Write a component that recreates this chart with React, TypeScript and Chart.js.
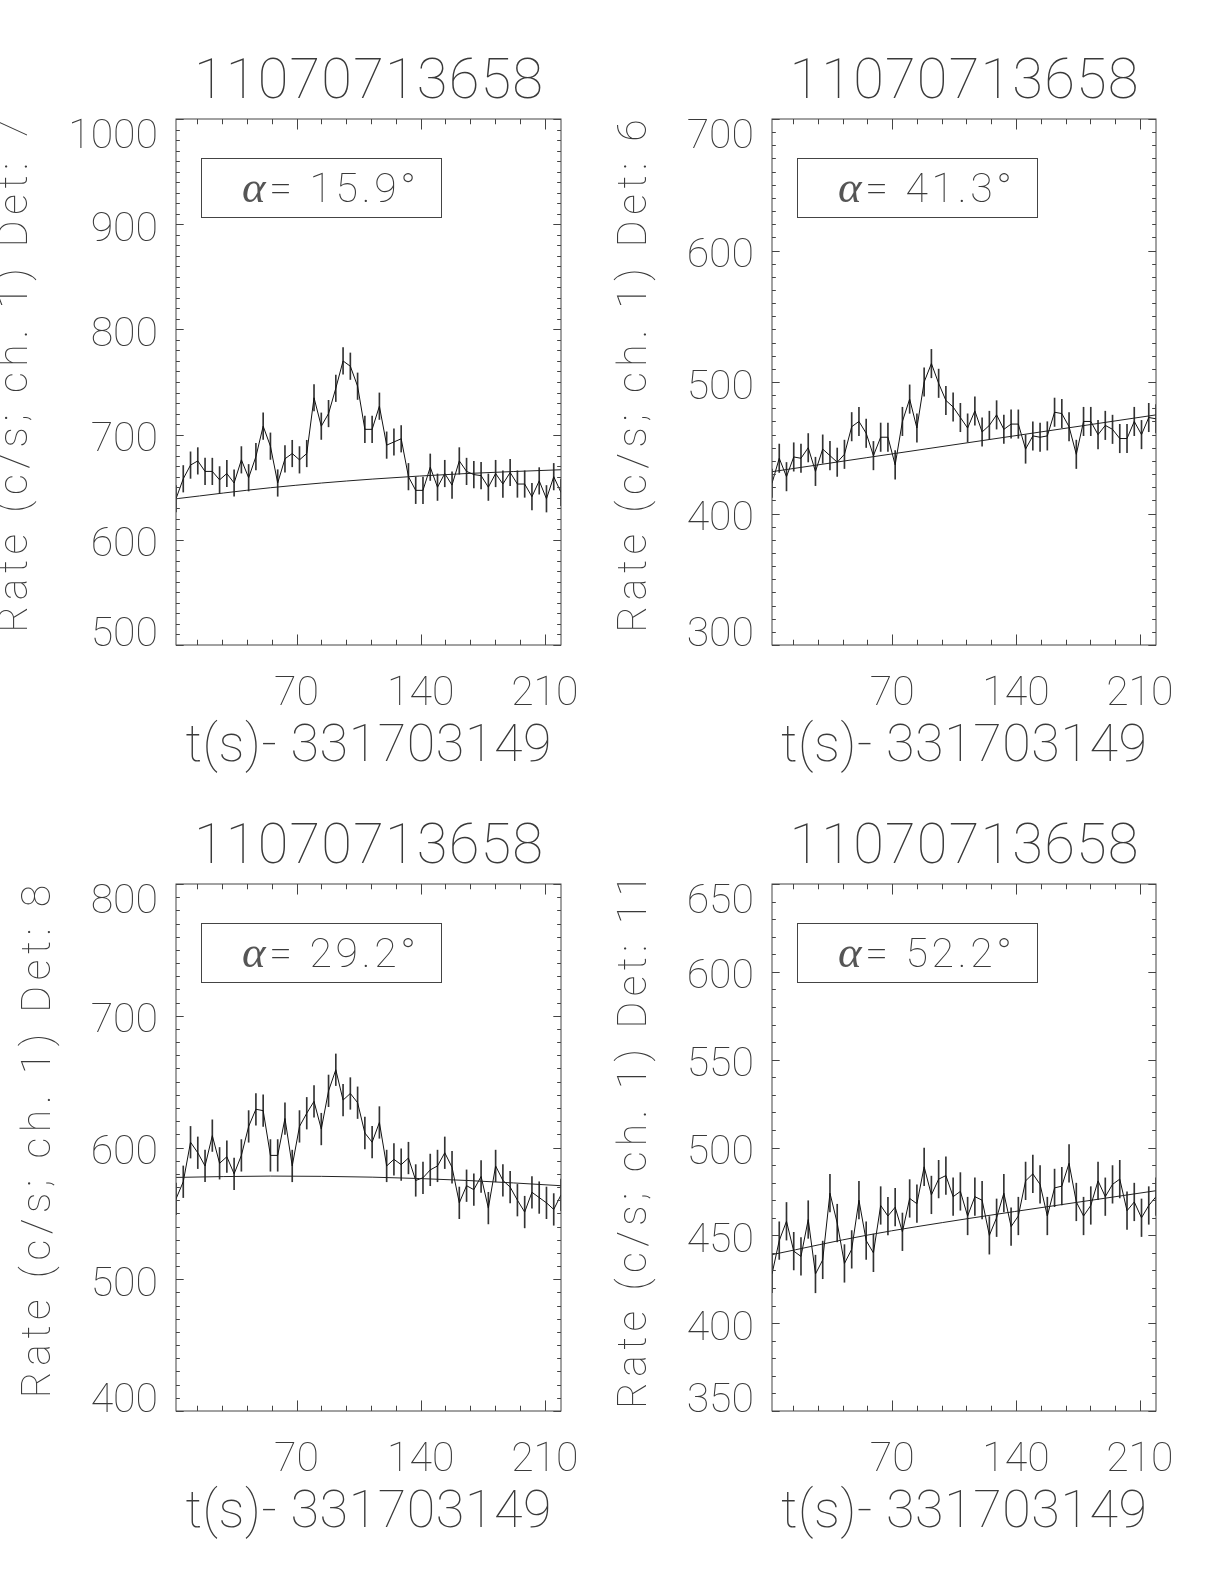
import React, { useEffect, useRef } from 'react';
import { Chart, registerables } from 'chart.js';

Chart.register(...registerables);

// ---------- data ----------
const TITLE = '11070713658';
const X_TITLE = 't(s)- 331703149';
const BIN_START = 2.048;
const BIN_WIDTH = 4.096;
const N_BINS = 54;
const X_MAJOR_STEP = 70;
const X_MINOR_STEP = 14;

const DETS = ['7', '6', '8', '11'];
const ALPHAS = ['15.9', '41.3', '29.2', '52.2'];
const Y_MIN = [500, 300, 400, 350];
const Y_MAX = [1000, 700, 800, 650];
const Y_MAJOR_STEP = [100, 100, 100, 50];
const Y_MINOR_STEP = [10, 10, 10, 10];

const RATE_DET7 = [639, 658, 671, 675, 665, 665, 657, 663, 654, 676, 659, 679, 708, 689, 654, 677, 682, 676, 682, 735, 708, 720, 744, 770, 765, 746, 705, 705, 727, 690, 693, 696, 660, 647, 647, 669, 650, 663, 652, 675, 665, 662, 661, 650, 663, 653, 664, 653, 653, 641, 656, 639, 660, 645];
const RATE_DET6 = [423, 442, 428, 443, 442, 450, 432, 449, 444, 439, 445, 466, 470, 461, 444, 458, 458, 437, 470, 487, 465, 500, 514, 499, 486, 481, 473, 465, 478, 462, 467, 475, 464, 468, 468, 449, 459, 458, 459, 477, 476, 466, 445, 470, 470, 460, 467, 464, 457, 457, 470, 460, 473, 472];
const RATE_DET8 = [561, 574, 604, 596, 586, 609, 588, 593, 580, 594, 616, 629, 628, 594, 594, 622, 586, 616, 626, 635, 614, 643, 659, 636, 641, 634, 611, 604, 619, 586, 591, 587, 592, 575, 577, 583, 586, 596, 585, 558, 571, 568, 578, 554, 586, 575, 570, 560, 551, 566, 562, 558, 553, 564];
const RATE_DET11 = [428, 447, 458, 441, 438, 459, 428, 436, 474, 457, 434, 442, 470, 447, 440, 467, 461, 466, 452, 471, 468, 489, 473, 482, 484, 472, 475, 461, 472, 470, 450, 460, 474, 455, 461, 481, 485, 479, 461, 477, 478, 491, 469, 461, 467, 481, 472, 479, 482, 464, 469, 460, 467, 472];
const ERR = [12.6, 10.8, 12.0, 10.7];

const BG_INDEX = [0, 13, 27, 40, 53];
const BG_DET7 = [639, 649.5, 657.7, 663, 666.6];
const BG_DET6 = [431.8, 442.4, 453.8, 464.4, 475];
const BG_DET8 = [577.3, 578.3, 577.5, 575, 571];
const BG_DET11 = [439, 450, 459.5, 467.5, 475.4];

const RATES = [RATE_DET7, RATE_DET6, RATE_DET8, RATE_DET11];
const BGS = [BG_DET7, BG_DET6, BG_DET8, BG_DET11];

// ---------- layout ----------
const PAGE_W = 1224;
const PAGE_H = 1584;
const CANVAS_W = 612;
const CANVAS_H = 792;
// canvas origin and plot-box edges in page pixels
const PANELS = [
  { cx: 0, cy: 0, l: 176, r: 561, t: 119, b: 645 },
  { cx: 612, cy: 0, l: 772, r: 1156, t: 119, b: 645 },
  { cx: 0, cy: 792, l: 176, r: 561, t: 884, b: 1411 },
  { cx: 612, cy: 792, l: 772, r: 1156, t: 884, b: 1411 },
];

const TEXT_COLOR = '#3a3a3a';
const FONT_FAMILY = 'Roboto, "DejaVu Sans", sans-serif';
const GREEK_FAMILY = '"Liberation Serif", "DejaVu Serif", serif';
const CAP = 0.711;

function setFont(ctx: CanvasRenderingContext2D, size: number, italic = false) {
  ctx.font = `${italic ? 'italic ' : ''}100 ${size}px ${FONT_FAMILY}`;
}

// draw text with its visual (cap) centre at cy; align 'left' | 'center' | 'right'
function drawText(
  ctx: CanvasRenderingContext2D,
  s: string,
  x: number,
  cy: number,
  size: number,
  align: 'left' | 'center' | 'right',
  width?: number
) {
  setFont(ctx, size);
  (ctx as any).letterSpacing = '0px';
  const n = [...s].length;
  const nat = ctx.measureText(s).width;
  let ls = 0;
  if (width && n > 1) ls = (width - nat) / (n - 1);
  const W = nat + ls * (n - 1);
  let x0 = x;
  if (align === 'center') x0 = x - W / 2;
  else if (align === 'right') x0 = x - W;
  (ctx as any).letterSpacing = `${ls}px`;
  ctx.textAlign = 'left';
  ctx.textBaseline = 'alphabetic';
  ctx.fillText(s, x0, cy + (CAP * size) / 2);
  (ctx as any).letterSpacing = '0px';
}

function makeFramePlugin(idx: number) {
  return {
    id: 'frame' + idx,
    afterDatasetsDraw(chart: any) {
      const ctx: CanvasRenderingContext2D = chart.ctx;
      const { left, right, top, bottom } = chart.chartArea;
      const xs = chart.scales.x;
      const ys = chart.scales.y;
      ctx.save();
      // box
      ctx.strokeStyle = '#444';
      ctx.lineWidth = 1;
      ctx.strokeRect(left, top, right - left, bottom - top);

      // inward ticks on all four sides
      const xMajLen = 0.02 * (bottom - top);
      const yMajLen = 0.02 * (right - left);
      ctx.beginPath();
      for (let v = Math.ceil(xs.min / X_MINOR_STEP) * X_MINOR_STEP; v <= xs.max; v += X_MINOR_STEP) {
        const px = Math.round(xs.getPixelForValue(v)) + 0.5;
        const len = v % X_MAJOR_STEP === 0 ? xMajLen : xMajLen / 2;
        ctx.moveTo(px, bottom);
        ctx.lineTo(px, bottom - len);
        ctx.moveTo(px, top);
        ctx.lineTo(px, top + len);
      }
      const ymin = Y_MIN[idx];
      const ymax = Y_MAX[idx];
      const maj = Y_MAJOR_STEP[idx];
      const mnr = Y_MINOR_STEP[idx];
      for (let v = ymin; v <= ymax + 1e-6; v += mnr) {
        const py = Math.round(ys.getPixelForValue(v)) + 0.5;
        const isMaj = Math.abs((v - ymin) % maj) < 1e-6;
        const len = isMaj ? yMajLen : yMajLen / 2;
        ctx.moveTo(left, py);
        ctx.lineTo(left + len, py);
        ctx.moveTo(right, py);
        ctx.lineTo(right - len, py);
      }
      ctx.stroke();

      ctx.fillStyle = TEXT_COLOR;
      const tickSize = 41;
      // y tick labels
      let maxW = 0;
      for (let v = ymin; v <= ymax + 1e-6; v += maj) {
        const s = String(v);
        setFont(ctx, tickSize);
        maxW = Math.max(maxW, ctx.measureText(s).width);
        let cy = ys.getPixelForValue(v) + 2;
        cy = Math.max(top + 14.5, Math.min(bottom - 14, cy));
        drawText(ctx, s, left - 18, cy, tickSize, 'right');
      }
      // x tick labels
      for (let v = Math.ceil(xs.min / X_MAJOR_STEP) * X_MAJOR_STEP; v <= xs.max; v += X_MAJOR_STEP) {
        drawText(ctx, String(v), xs.getPixelForValue(v), bottom + 45, tickSize, 'center');
      }
      const midX = (left + right) / 2;
      // titles
      drawText(ctx, TITLE, midX, top - 41, 56, 'center', 349);
      drawText(ctx, X_TITLE, midX, bottom + 98, 52, 'center', 366);

      // y title (rotated)
      const yTitle = `Rate (c/s; ch. 1) Det: ${DETS[idx]}`;
      const baseX = left - 18 - maxW - 41;
      const midY = (top + bottom) / 2 - 6;
      ctx.save();
      ctx.translate(baseX, midY);
      ctx.rotate(-Math.PI / 2);
      setFont(ctx, tickSize);
      const n = [...yTitle].length;
      const target = 21.4 * n;
      const nat = ctx.measureText(yTitle).width;
      const ls = (target - nat) / (n - 1);
      (ctx as any).letterSpacing = `${ls}px`;
      ctx.textAlign = 'left';
      ctx.textBaseline = 'alphabetic';
      ctx.fillText(yTitle, -target / 2, 0);
      (ctx as any).letterSpacing = '0px';
      ctx.restore();

      // alpha legend box
      const bx = left + 25;
      const by = top + 39;
      const bw = 240;
      const bh = 59;
      ctx.strokeStyle = '#444';
      ctx.lineWidth = 1;
      ctx.strokeRect(Math.round(bx) + 0.5, Math.round(by) + 0.5, bw, bh);
      const rest = `= ${ALPHAS[idx]}°`;
      const greekFont = `italic 400 ${tickSize + 4}px ${GREEK_FAMILY}`;
      ctx.font = greekFont;
      (ctx as any).letterSpacing = '0px';
      const wa = ctx.measureText('α').width;
      setFont(ctx, tickSize);
      const wr = ctx.measureText(rest).width;
      const nChars = 1 + [...rest].length;
      const tw = 174;
      const l2 = (tw - wa - wr) / (nChars - 1);
      const tx = bx + 128 - tw / 2;
      const tyBase = by + bh / 2 + (CAP * tickSize) / 2;
      ctx.textAlign = 'left';
      ctx.textBaseline = 'alphabetic';
      ctx.font = greekFont;
      ctx.fillStyle = '#555';
      ctx.fillText('α', tx, tyBase);
      ctx.fillStyle = TEXT_COLOR;
      setFont(ctx, tickSize);
      (ctx as any).letterSpacing = `${l2}px`;
      ctx.fillText(rest, tx + wa + l2, tyBase);
      (ctx as any).letterSpacing = '0px';
      ctx.restore();
    },
  };
}

function Panel({ idx }: { idx: number }) {
  const ref = useRef<HTMLCanvasElement | null>(null);
  useEffect(() => {
    const canvas = ref.current;
    if (!canvas) return;
    const p = PANELS[idx];
    const times: number[] = [];
    for (let i = 0; i < N_BINS; i++) times.push(BIN_START + BIN_WIDTH * i);
    const rate = RATES[idx];
    const err = ERR[idx];
    const bg = BGS[idx];
    const chart = new Chart(canvas, {
      data: {
        datasets: [
          {
            type: 'bar',
            data: rate.map((v, i) => ({ x: times[i], y: [v - err, v + err] })) as any,
            backgroundColor: '#333',
            borderWidth: 0,
            barThickness: 1,
            grouped: false,
            order: 3,
          } as any,
          {
            type: 'line',
            data: rate.map((v, i) => ({ x: times[i], y: v })),
            borderColor: '#111',
            borderWidth: 1,
            pointRadius: 0,
            tension: 0,
            order: 2,
          },
          {
            type: 'line',
            data: bg.map((v, i) => ({ x: times[BG_INDEX[i]], y: v })),
            borderColor: '#222',
            borderWidth: 1,
            pointRadius: 0,
            cubicInterpolationMode: 'monotone',
            order: 1,
          },
        ],
      },
      options: {
        animation: false,
        responsive: false,
        devicePixelRatio: 1,
        events: [],
        layout: {
          padding: {
            left: p.l - p.cx,
            right: p.cx + CANVAS_W - p.r,
            top: p.t - p.cy,
            bottom: p.cy + CANVAS_H - p.b,
          },
        },
        plugins: { legend: { display: false }, tooltip: { enabled: false } },
        scales: {
          x: { type: 'linear', display: false, min: times[0], max: times[N_BINS - 1], offset: false },
          y: { type: 'linear', display: false, min: Y_MIN[idx], max: Y_MAX[idx], beginAtZero: false },
        },
      },
      plugins: [makeFramePlugin(idx)],
    } as any);
    return () => chart.destroy();
  }, [idx]);
  const p = PANELS[idx];
  return (
    <canvas
      ref={ref}
      width={CANVAS_W}
      height={CANVAS_H}
      style={{ position: 'absolute', left: p.cx, top: p.cy, width: CANVAS_W, height: CANVAS_H }}
    />
  );
}

export default function App() {
  return (
    <div style={{ position: 'absolute', left: 0, top: 0, width: PAGE_W, height: PAGE_H, background: '#fff', overflow: 'hidden' }}>
      {[0, 1, 2, 3].map((i) => (
        <Panel key={i} idx={i} />
      ))}
    </div>
  );
}
